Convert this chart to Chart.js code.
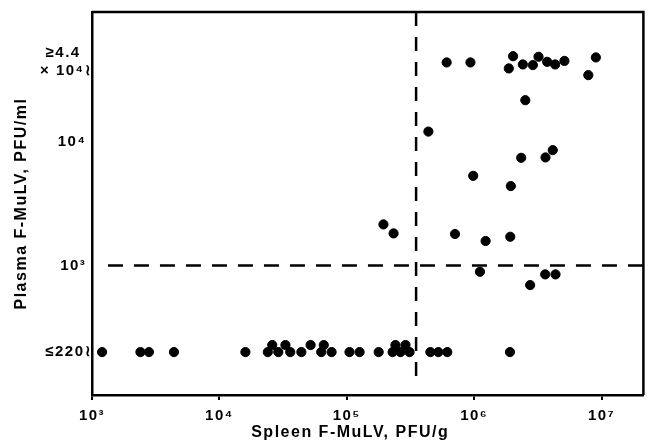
<!DOCTYPE html>
<html>
<head>
<meta charset="utf-8">
<script src="https://cdn.jsdelivr.net/npm/chart.js@4"></script>
<style>
  html, body { margin: 0; padding: 0; background: #fff; }
</style>
</head>
<body>
<canvas id="chart" width="649" height="442"></canvas>
<script>
// Spleen titre (x, PFU/g) and plasma titre (y, PFU/ml), one entry per animal
const spleenTiters = [
    1200, 2400, 2800, 4400, 16000, 24000, 26000, 29000, 33000, 36000,
    44000, 52000, 63000, 66000, 76000, 105000, 126000, 178000, 229000, 241000,
    264000, 289000, 311000, 453000, 523000, 615000, 1910000,
    608000, 935000, 2020000, 1870000, 2410000, 2890000, 3200000, 3740000, 4320000, 5110000,
    9020000, 7870000, 2520000, 437000, 2340000, 3630000, 4140000, 982000, 1940000,
    194000, 233000, 707000, 1230000, 1920000, 1110000, 2750000, 3610000, 4350000
];
const plasmaTiters = [
    200, 200, 200, 200, 200, 200, 228, 200, 228, 200,
    200, 228, 200, 228, 200, 200, 200, 200, 200, 228,
    200, 228, 200, 200, 200, 200, 200,
    43800, 43800, 49200, 39200, 42200, 41700, 48700, 44300, 42200, 45100,
    48100, 34600, 21700, 12100, 7430, 7480, 8570, 5310, 4390,
    2150, 1820, 1800, 1580, 1710, 891, 696, 849, 849
];

// cut-off lines
const spleenCutoff = 350000;
const plasmaCutoff = 1000;

const xMin = 1000, xMax = 21300000;
const yMin = 90, yMax = 112000;

const xTickValues = [1e3, 1e4, 1e5, 1e6, 1e7];
const xTickLabels = ['10³', '10⁴', '10⁵', '10⁶', '10⁷'];
const yTickValues = [200, 1000, 10000, 44000];
const yTickLabels = ['≤220≀', '10³ ', '10⁴ ', ['≥4.4  ', '× 10⁴≀']];

const font = { family: "'Liberation Sans', Arial, sans-serif", size: 16, weight: 'bold' };
const tickFont = { family: "'Liberation Sans', Arial, sans-serif", size: 15, weight: 'bold' };

const points = spleenTiters.map((x, i) => ({ x: x, y: plasmaTiters[i] }));

// spacing out the lettering like the typeset original
const spacing = {
    id: 'spacing',
    beforeDraw(chart) { chart.ctx.letterSpacing = '1.5px'; }
};

// top and right sides of the box
const frame = {
    id: 'frame',
    afterDraw(chart) {
        const { ctx, chartArea: a } = chart;
        ctx.save();
        ctx.strokeStyle = '#000';
        ctx.lineWidth = 2.5;
        ctx.beginPath();
        ctx.moveTo(a.left, a.top);
        ctx.lineTo(a.right, a.top);
        ctx.lineTo(a.right, a.bottom);
        ctx.stroke();
        ctx.restore();
    }
};

new Chart(document.getElementById('chart'), {
    type: 'scatter',
    data: {
        datasets: [
            {
                data: points,
                backgroundColor: '#000',
                borderColor: '#000',
                pointRadius: 4.6,
                pointHoverRadius: 4.6
            },
            {
                data: [{ x: spleenCutoff, y: yMax }, { x: spleenCutoff, y: 115 }],
                showLine: true,
                borderColor: '#000',
                borderWidth: 2.5,
                borderDash: [14, 11],
                pointRadius: 0
            },
            {
                data: [{ x: 1334, y: plasmaCutoff }, { x: xMax, y: plasmaCutoff }],
                showLine: true,
                borderColor: '#000',
                borderWidth: 2.5,
                borderDash: [15, 11],
                pointRadius: 0
            }
        ]
    },
    options: {
        responsive: false,
        animation: false,
        layout: { padding: { top: 12, right: 3, left: 0, bottom: 0 } },
        plugins: {
            legend: { display: false },
            tooltip: { enabled: false }
        },
        scales: {
            x: {
                type: 'logarithmic',
                min: xMin,
                max: xMax,
                afterBuildTicks: s => { s.ticks = xTickValues.map(v => ({ value: v })); },
                afterFit: s => {
                    s.height = 47;
                    s.paddingLeft = 0;
                    s.paddingRight = 0;
                },
                ticks: {
                    callback: v => xTickLabels[xTickValues.indexOf(v)],
                    color: '#000',
                    font: tickFont,
                    padding: 7,
                    maxRotation: 0,
                    autoSkip: false
                },
                grid: { drawOnChartArea: false, drawTicks: true, tickLength: 5, color: '#000', lineWidth: 2 },
                border: { display: true, color: '#000', width: 2.5 },
                title: {
                    display: true,
                    text: 'Spleen F-MuLV, PFU/g\u2003\u2003',
                    color: '#000',
                    font: font,
                    padding: { top: 0, bottom: 0 }
                }
            },
            y: {
                type: 'logarithmic',
                min: yMin,
                max: yMax,
                afterBuildTicks: s => { s.ticks = yTickValues.map(v => ({ value: v })); },
                afterFit: s => {
                    s.width = 92;
                    s.paddingTop = 0;
                    s.paddingBottom = 0;
                },
                ticks: {
                    callback: v => yTickLabels[yTickValues.indexOf(v)],
                    color: '#000',
                    font: tickFont,
                    padding: 0,
                    autoSkip: false
                },
                grid: { drawOnChartArea: false, drawTicks: false },
                border: { display: true, color: '#000', width: 2.5 },
                title: {
                    display: true,
                    text: 'Plasma F-MuLV, PFU/ml',
                    color: '#000',
                    font: font,
                    padding: { top: 12, bottom: 0 }
                }
            }
        }
    },
    plugins: [spacing, frame]
});
</script>
</body>
</html>
